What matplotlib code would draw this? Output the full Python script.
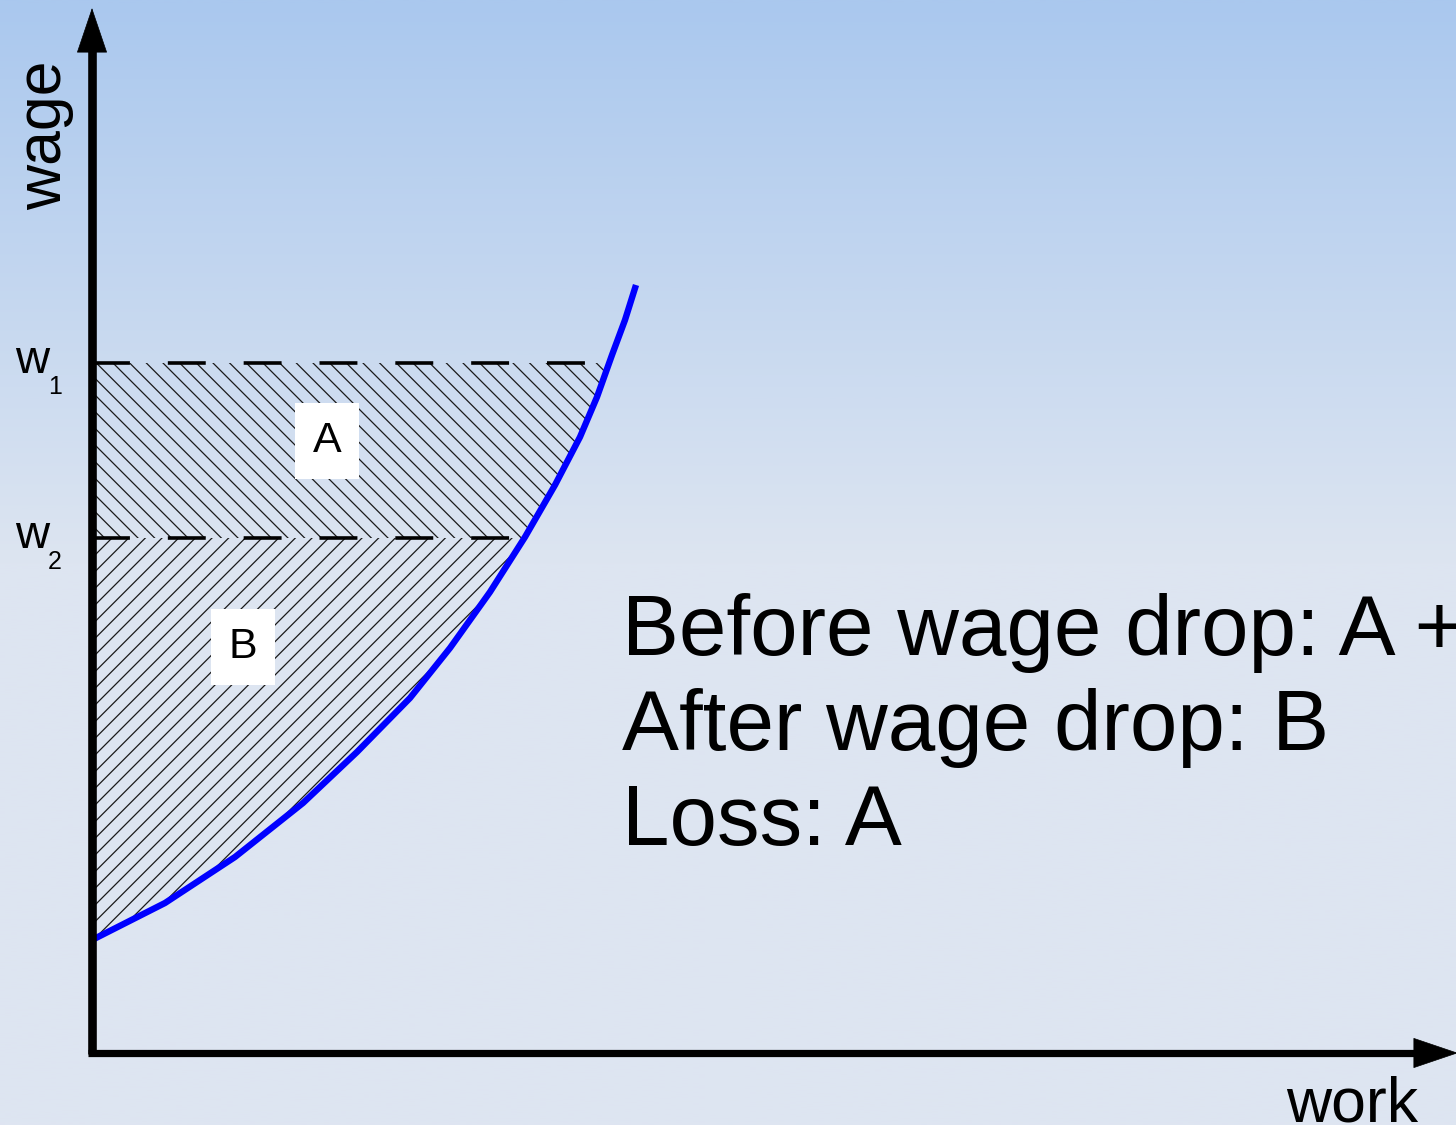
import numpy as np
import matplotlib
matplotlib.use('Agg')
import matplotlib.pyplot as plt
from matplotlib.colors import LinearSegmentedColormap

plt.rcParams['font.family'] = ['Liberation Sans', 'DejaVu Sans']
plt.rcParams['hatch.linewidth'] = 0.9

# labour supply curve (work, wage)
work = [0.0, 0.73, 1.43, 2.11, 2.65, 3.18, 3.58, 3.98, 4.33, 4.63, 4.88, 5.05, 5.20, 5.33, 5.44]
wage = [1.13, 1.50, 1.96, 2.50, 3.01, 3.55, 4.05, 4.61, 5.16, 5.68, 6.16, 6.56, 6.98, 7.33, 7.68]

w1 = 6.90
w2 = 5.15
area_labels = ['A', 'B']
summary = ['Before wage drop: A + B', 'After wage drop: B', 'Loss: A']

fig = plt.figure(figsize=(14.56, 11.25), dpi=100)
ax = fig.add_axes([0, 0, 1, 1])
xmin, xmax = -0.92, 13.64
ymin, ymax = -0.72, 10.53
ax.set_xlim(xmin, xmax)
ax.set_ylim(ymin, ymax)
ax.axis('off')

# background gradient
cmap = LinearSegmentedColormap.from_list('bg', [(0.0, '#dee5f1'), (0.50, '#dde5f1'), (1.0, '#aac8ee')])
grad = np.linspace(0, 1, 512).reshape(-1, 1)
ax.imshow(grad, extent=[xmin, xmax, ymin, ymax], origin='lower', aspect='auto', cmap=cmap, zorder=0)

work = np.array(work)
wage = np.array(wage)

# curve x at a given wage
def work_at(w):
    return np.interp(w, wage, work)

# area B: under w2, above curve
mask_b = wage <= w2
xb = np.concatenate([[0], work[mask_b], [work_at(w2)], [0]])
yb = np.concatenate([[wage[0]], wage[mask_b], [w2], [w2]])
ax.fill(xb, yb, facecolor='none', edgecolor='#1a1a1a', hatch='//', linewidth=0, zorder=2)

# area A: between w2 and w1
mask_a = (wage > w2) & (wage < w1)
xa = np.concatenate([[0], [work_at(w2)], work[mask_a], [work_at(w1)], [0]])
ya = np.concatenate([[w2], [w2], wage[mask_a], [w1], [w1]])
ax.fill(xa, ya, facecolor='none', edgecolor='#1a1a1a', hatch='\\\\', linewidth=0, zorder=2)

# dashed wage lines
for w in [w1, w2]:
    ax.plot([0, work_at(w)], [w, w], color='black', lw=2.6, dashes=(10.5, 10.5), zorder=3)

# supply curve
ax.plot(work, wage, color='#0000ff', lw=4.6, solid_capstyle='butt', zorder=4)

# axes with arrows
ax.plot([0, 0], [-0.01, 10.1], color='black', lw=6.2, solid_capstyle='butt', zorder=5)
ax.plot([-0.04, 13.3], [0, 0], color='black', lw=5.2, solid_capstyle='butt', zorder=5)
head = dict(arrowstyle='-|>,head_length=3.1,head_width=1.05', color='black', lw=0.5,
            shrinkA=0, shrinkB=0)
ax.annotate('', xy=(0, 10.45), xytext=(0, 9.9), arrowprops=head, annotation_clip=False, zorder=5)
ax.annotate('', xy=(13.66, 0), xytext=(13.1, 0), arrowprops=head, annotation_clip=False, zorder=5)

ax.text(-0.47, 9.18, 'wage', rotation=90, fontsize=45, ha='center', va='center', zorder=6)
ax.text(12.6, -0.69, 'work', fontsize=45, ha='center', va='baseline', zorder=6)

# wage level labels
for w, sub in [(w1, '1'), (w2, '2')]:
    ax.text(-0.77, w - 0.1, 'w', fontsize=34, ha='left', va='baseline', zorder=6)
    ax.text(-0.44, w - 0.31, sub, fontsize=18, ha='left', va='baseline', zorder=6)

# area labels in white boxes
for lab, (lx, ly) in zip(area_labels, [(2.35, 6.12), (1.51, 4.06)]):
    ax.text(lx, ly, lab, fontsize=31, ha='center', va='center', zorder=6,
            bbox=dict(facecolor='white', edgecolor='none', boxstyle='square,pad=0.42'))

for i, line in enumerate(summary):
    ax.text(5.30, 3.98 - i * 0.95, line, fontsize=61.5, ha='left', va='baseline', zorder=6)

fig.savefig('out.png', dpi=100)
